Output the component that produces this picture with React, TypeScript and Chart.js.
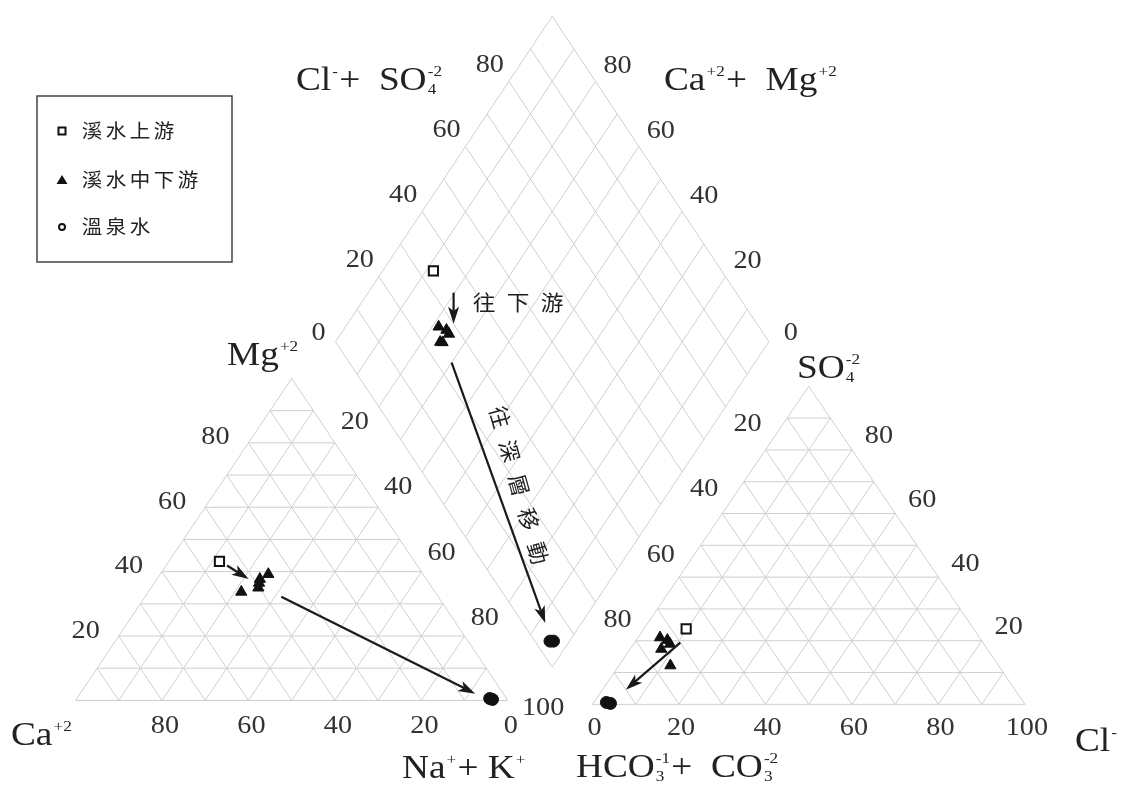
import { useEffect, useRef } from 'react';
import { Chart, registerables } from 'chart.js';

Chart.register(...registerables);

const seriesNames = ['溪水上游', '溪水中下游', '溫泉水'];

// Cation triangle (%): Na+K and Mg  (Ca = 100 - Na - Mg)
const upstreamNaK = [11.7];
const upstreamMg = [43.2];
const midNaK = [21.5, 23.8, 25.0, 24.8, 24.2];
const midMg = [33.7, 37.7, 39.2, 35.0, 36.5];
const springNaK = [95.5, 96.3];
const springMg = [0.6, 0.3];

// Anion triangle (%): Cl and SO4  (HCO3+CO3 = 100 - Cl - SO4)
const upstreamCl = [9.8];
const upstreamSO4 = [23.7];
const midCl = [5.1, 7.2, 8.4, 7.2, 11.9];
const midSO4 = [21.0, 20.2, 19.0, 17.4, 12.2];
const springCl = [2.9, 4.0];
const springSO4 = [0.6, 0.3];

// Grid and tick labels
const gridSteps = [0, 10, 20, 30, 40, 50, 60, 70, 80, 90, 100];
const leftBottomTicks = [80, 60, 40, 20, 0];
const sideTicks = [20, 40, 60, 80];
const rightBottomTicks = [0, 20, 40, 60, 80, 100];

// Trend arrows (start, end)
const cationArrows = [[[14.1, 41.9], [21.2, 37.7]], [[31.5, 32.2], [91.4, 2.1]]]; // [Na+K, Mg]
const diamondArrows = [[[19.7, 34.8], [24.5, 30.0]], [[30.0, 23.6], [91.6, 5.2]]]; // [Na+K, Cl+SO4]
const anionArrows = [[[10.6, 19.4], [5.4, 4.6]]]; // [Cl, SO4]

const annoDown = '往下游';
const annoDeep = '往深層移動';

// ---- layout of the Piper frame (in canvas units) ----
const CW = 1127;
const CH = 798;
const SX = 1.13; // the figure is horizontally stretched
const L = { x0: 68, y0: 707, w: 439, h: 329 };
const R = { x0: 593, y0: 711, w: 439, h: 325 };
const D = { bx: 552, by: 673, hw: 220, hh: 332.5 };

type P = { x: number; y: number };
const cat = (na: number, mg: number): P => ({ x: L.x0 + ((na + mg / 2) / 100) * L.w, y: L.y0 - (mg / 100) * L.h });
const an = (cl: number, so4: number): P => ({ x: R.x0 + ((cl + so4 / 2) / 100) * R.w, y: R.y0 - (so4 / 100) * R.h });
const dia = (na: number, cs: number): P => {
  const p = 1 - na / 100;
  const b = cs / 100;
  return { x: D.bx - p * D.hw + b * D.hw, y: D.by - (p + b) * D.hh };
};

function buildGrid(): P[] {
  const g: P[] = [];
  const seg = (a: P, b: P) => {
    g.push(a, b, { x: NaN, y: NaN });
  };
  for (const k of gridSteps) {
    seg(cat(0, k), cat(100 - k, k));
    seg(cat(k, 0), cat(k, 100 - k));
    seg(cat(100 - k, 0), cat(0, 100 - k));
    seg(an(0, k), an(100 - k, k));
    seg(an(k, 0), an(k, 100 - k));
    seg(an(100 - k, 0), an(0, 100 - k));
    seg(dia(k, 0), dia(k, 100));
    seg(dia(0, k), dia(100, k));
  }
  return g;
}

function samplePoints(na: number[], mg: number[], cl: number[], so4: number[]): P[] {
  const pts: P[] = [];
  na.forEach((v, i) => pts.push(cat(v, mg[i])));
  cl.forEach((v, i) => pts.push(an(v, so4[i])));
  na.forEach((v, i) => pts.push(dia(v, cl[i] + so4[i])));
  return pts;
}

const SERIF = '"Liberation Serif", "DejaVu Serif", serif';
const CJK = '"Noto Sans CJK TC", "Noto Sans CJK SC", sans-serif';
const INK = '#222';

type Part = [string, 'n' | 'sup' | 'sub' | 'ss', string?];

function richText(ctx: CanvasRenderingContext2D, x: number, y: number, parts: Part[], size: number) {
  const small = size * 0.46;
  ctx.save();
  ctx.translate(x, y);
  ctx.scale(SX, 1);
  ctx.textAlign = 'left';
  ctx.textBaseline = 'alphabetic';
  ctx.fillStyle = INK;
  let cx = 0;
  for (const [t, k, t2] of parts) {
    if (k === 'n') {
      ctx.font = `${size}px ${SERIF}`;
      ctx.fillText(t, cx, 0);
      cx += ctx.measureText(t).width;
    } else if (k === 'sup') {
      ctx.font = `${small}px ${SERIF}`;
      ctx.fillText(t, cx + 1, -size * 0.42);
      cx += ctx.measureText(t).width + 2;
    } else if (k === 'sub') {
      ctx.font = `${small}px ${SERIF}`;
      ctx.fillText(t, cx + 1, size * 0.12);
      cx += ctx.measureText(t).width + 2;
    } else {
      ctx.font = `${small}px ${SERIF}`;
      ctx.fillText(t, cx + 1, size * 0.12);
      ctx.fillText(t2 || '', cx + 1, -size * 0.42);
      cx += Math.max(ctx.measureText(t).width, ctx.measureText(t2 || '').width) + 2;
    }
  }
  ctx.restore();
}

function stretched(ctx: CanvasRenderingContext2D, t: string, x: number, y: number, sx = SX) {
  ctx.save();
  ctx.translate(x, y);
  ctx.scale(sx, 1);
  ctx.fillText(t, 0, 0);
  ctx.restore();
}

function spacedText(ctx: CanvasRenderingContext2D, text: string, x: number, y: number, step: number) {
  ctx.textAlign = 'center';
  ctx.textBaseline = 'middle';
  [...text].forEach((ch, i) => stretched(ctx, ch, x + i * step, y, 1.08));
}

const deco = {
  id: 'piperDeco',
  afterDatasetsDraw(chart: any) {
    const ctx: CanvasRenderingContext2D = chart.ctx;
    const sx = chart.scales.x;
    const sy = chart.scales.y;
    const px = (p: P): P => ({ x: sx.getPixelForValue(p.x), y: sy.getPixelForValue(p.y) });
    const arrow = (a: P, b: P, head: number, hw: number) => {
      const A = px(a);
      const B = px(b);
      const ang = Math.atan2(B.y - A.y, B.x - A.x);
      const c = Math.cos(ang);
      const s = Math.sin(ang);
      ctx.strokeStyle = '#1a1a1a';
      ctx.fillStyle = '#1a1a1a';
      ctx.lineWidth = 2.2;
      ctx.beginPath();
      ctx.moveTo(A.x, A.y);
      ctx.lineTo(B.x - c * head * 0.7, B.y - s * head * 0.7);
      ctx.stroke();
      ctx.beginPath();
      ctx.moveTo(B.x, B.y);
      ctx.lineTo(B.x - c * head + s * hw, B.y - s * head - c * hw);
      ctx.lineTo(B.x - c * head * 0.75, B.y - s * head * 0.75);
      ctx.lineTo(B.x - c * head - s * hw, B.y - s * head + c * hw);
      ctx.closePath();
      ctx.fill();
    };
    ctx.save();
    cationArrows.forEach(([a, b]) => arrow(cat(a[0], a[1]), cat(b[0], b[1]), 17, 5.5));
    diamondArrows.forEach(([a, b]) => arrow(dia(a[0], a[1]), dia(b[0], b[1]), 17, 5.5));
    anionArrows.forEach(([a, b]) => arrow(an(a[0], a[1]), an(b[0], b[1]), 17, 5.5));
    ctx.restore();
  },
  afterDraw(chart: any) {
    const ctx: CanvasRenderingContext2D = chart.ctx;
    const sx = chart.scales.x;
    const sy = chart.scales.y;
    const px = (p: P): P => ({ x: sx.getPixelForValue(p.x), y: sy.getPixelForValue(p.y) });
    ctx.save();
    ctx.fillStyle = '#333';
    ctx.font = `25px ${SERIF}`;
    ctx.textAlign = 'center';
    ctx.textBaseline = 'middle';
    const num = (v: number, p: P, dx: number, dy: number) => {
      const q = px(p);
      stretched(ctx, String(v), q.x + dx, q.y + dy);
    };
    leftBottomTicks.forEach((v) => num(v, cat(100 - v, 0), 3, 26));
    sideTicks.forEach((v) => num(v, cat(0, v), -33, -5));
    sideTicks.forEach((v) => num(v, dia(v, 0), -24, 16));
    num(100, dia(100, 0), -9, 41);
    sideTicks.forEach((v) => num(v, dia(0, v), -19, -16));
    num(0, dia(0, 0), -17, -8);
    sideTicks.forEach((v) => num(v, dia(100 - v, 100), 22, -15));
    num(0, dia(100, 100), 22, -8);
    sideTicks.forEach((v) => num(v, dia(100, 100 - v), 22, 18));
    sideTicks.forEach((v) => num(v, an(100 - v, v), 27, -13));
    rightBottomTicks.forEach((v) => num(v, an(v, 0), 2, 24));

    // ion axis titles
    const S = 33;
    richText(ctx, 296, 90, [['Cl', 'n'], ['-', 'sup'], ['+  SO', 'n'], ['4', 'ss', '-2']], S);
    richText(ctx, 664, 90, [['Ca', 'n'], ['+2', 'sup'], ['+  Mg', 'n'], ['+2', 'sup']], S);
    richText(ctx, 227, 365, [['Mg', 'n'], ['+2', 'sup']], S);
    richText(ctx, 797, 378, [['SO', 'n'], ['4', 'ss', '-2']], S);
    richText(ctx, 11, 745, [['Ca', 'n'], ['+2', 'sup']], S);
    richText(ctx, 402, 778, [['Na', 'n'], ['+', 'sup'], ['+ K', 'n'], ['+', 'sup']], S);
    richText(ctx, 576, 777, [['HCO', 'n'], ['3', 'ss', '-1'], ['+  CO', 'n'], ['3', 'ss', '-2']], S);
    richText(ctx, 1075, 751, [['Cl', 'n'], ['-', 'sup']], S);

    // annotations
    ctx.fillStyle = '#1e1e1e';
    ctx.font = `21px ${CJK}`;
    spacedText(ctx, annoDown, 484, 302, 34);
    ctx.save();
    const ang = Math.atan2(34, 9.5);
    ctx.translate(500, 417);
    ctx.rotate(ang);
    ctx.font = `22px ${CJK}`;
    [...annoDeep].forEach((ch, i) => {
      ctx.textAlign = 'center';
      ctx.textBaseline = 'middle';
      ctx.fillText(ch, i * 35.3, 0);
    });
    ctx.restore();

    // legend
    ctx.strokeStyle = '#444';
    ctx.lineWidth = 1.5;
    ctx.strokeRect(37, 96, 195, 166);
    const lx = 62;
    const ly = [131, 180, 227];
    ctx.fillStyle = '#111';
    ctx.strokeStyle = '#111';
    ctx.lineWidth = 2;
    ctx.strokeRect(lx - 3.5, ly[0] - 3.5, 7, 7);
    ctx.beginPath();
    ctx.moveTo(lx, ly[1] - 5);
    ctx.lineTo(lx + 5.5, ly[1] + 4);
    ctx.lineTo(lx - 5.5, ly[1] + 4);
    ctx.closePath();
    ctx.fill();
    ctx.beginPath();
    ctx.arc(lx, ly[2], 3, 0, Math.PI * 2);
    ctx.stroke();
    ctx.fillStyle = '#222';
    ctx.font = `19px ${CJK}`;
    seriesNames.forEach((n, i) => spacedText(ctx, n, 92, ly[i], 24));
    ctx.restore();
  },
};

export default function App() {
  const ref = useRef<HTMLCanvasElement | null>(null);
  useEffect(() => {
    if (!ref.current) return;
    const chart = new Chart(ref.current, {
      type: 'scatter',
      data: {
        datasets: [
          {
            label: seriesNames[0],
            data: samplePoints(upstreamNaK, upstreamMg, upstreamCl, upstreamSO4),
            pointStyle: 'rect',
            pointRadius: 6.5,
            backgroundColor: '#ffffff',
            borderColor: '#111',
            borderWidth: 2,
            order: 1,
          },
          {
            label: seriesNames[1],
            data: samplePoints(midNaK, midMg, midCl, midSO4),
            pointStyle: 'triangle',
            pointRadius: 6.5,
            backgroundColor: '#111',
            borderColor: '#111',
            borderWidth: 1,
            order: 2,
          },
          {
            label: seriesNames[2],
            data: samplePoints(springNaK, springMg, springCl, springSO4),
            pointStyle: 'circle',
            pointRadius: 6,
            backgroundColor: '#111',
            borderColor: '#111',
            borderWidth: 1,
            order: 3,
          },
          {
            label: 'grid',
            data: buildGrid(),
            showLine: true,
            spanGaps: false,
            borderColor: '#cfcfcf',
            borderWidth: 1,
            pointRadius: 0,
            order: 10,
          } as any,
        ],
      },
      options: {
        animation: false,
        responsive: false,
        devicePixelRatio: 1,
        events: [],
        layout: { padding: 0 },
        plugins: { legend: { display: false }, tooltip: { enabled: false } },
        scales: {
          x: { type: 'linear', min: 0, max: CW, display: false },
          y: { type: 'linear', min: 0, max: CH, reverse: true, display: false },
        },
      },
      plugins: [deco],
    });
    return () => chart.destroy();
  }, []);
  return (
    <div style={{ position: 'absolute', left: 0, top: 0, width: CW, height: CH, background: '#fff' }}>
      <canvas ref={ref} width={CW} height={CH} style={{ display: 'block' }} />
    </div>
  );
}
